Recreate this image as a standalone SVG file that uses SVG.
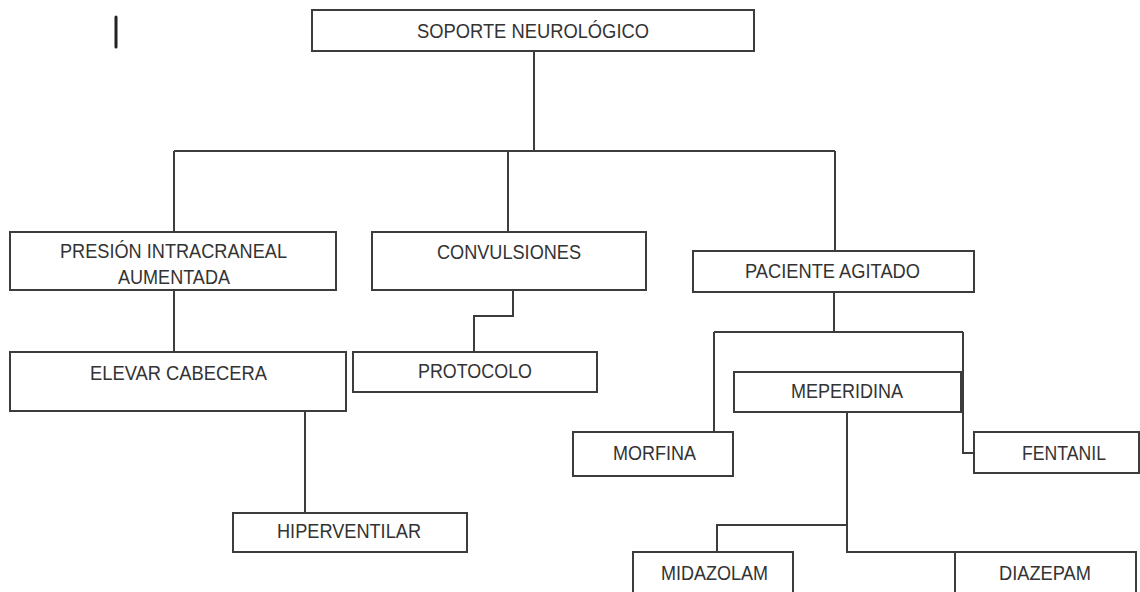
<svg xmlns="http://www.w3.org/2000/svg" width="1140" height="592" viewBox="0 0 1140 592">
<style>
.box{fill:#fff;stroke:#3c3c3c;stroke-width:2}
.lbl{font-family:"Liberation Sans",Arial,sans-serif;font-size:21px;fill:#333;text-anchor:middle}
.con{fill:none;stroke:#3c3c3c;stroke-width:2}
</style>
<rect width="1140" height="592" fill="#fff"/>
<line x1="116" y1="17" x2="116" y2="47" stroke="#222" stroke-width="3" stroke-linecap="round"/>
<g id="connectors" class="con">
<path d="M534 51V151M174 151H835M174 151V232M508 151V232M835 151V251"/>
<path d="M174 290V352"/>
<path d="M513 290V316H474V352"/>
<path d="M305 411V513"/>
<path d="M834 292V332M714 332H963M714 332V432M963 332V453H974"/>
<path d="M847 412V552H955M847 525H717V552"/>
</g>
<g id="soporte"><rect class="box" x="312" y="10" width="442" height="41"/><text class="lbl" x="533" y="38" textLength="232" lengthAdjust="spacingAndGlyphs">SOPORTE NEUROLÓGICO</text></g>
<g id="presion"><rect class="box" x="10" y="232" width="326" height="58"/><text class="lbl" x="173.5" y="258" textLength="227" lengthAdjust="spacingAndGlyphs">PRESIÓN INTRACRANEAL</text><text class="lbl" x="174" y="284" textLength="112" lengthAdjust="spacingAndGlyphs">AUMENTADA</text></g>
<g id="convulsiones"><rect class="box" x="372" y="232" width="274" height="58"/><text class="lbl" x="509" y="259" textLength="144" lengthAdjust="spacingAndGlyphs">CONVULSIONES</text></g>
<g id="paciente"><rect class="box" x="693" y="251" width="281" height="41"/><text class="lbl" x="832.5" y="278" textLength="175" lengthAdjust="spacingAndGlyphs">PACIENTE AGITADO</text></g>
<g id="elevar"><rect class="box" x="10" y="352" width="336" height="59"/><text class="lbl" x="178.5" y="380" textLength="177" lengthAdjust="spacingAndGlyphs">ELEVAR CABECERA</text></g>
<g id="protocolo"><rect class="box" x="353" y="352" width="244" height="40"/><text class="lbl" x="475" y="378" textLength="114" lengthAdjust="spacingAndGlyphs">PROTOCOLO</text></g>
<g id="meperidina"><rect class="box" x="734" y="372" width="227" height="40"/><text class="lbl" x="847" y="398" textLength="112" lengthAdjust="spacingAndGlyphs">MEPERIDINA</text></g>
<g id="morfina"><rect class="box" x="573" y="432" width="160" height="44"/><text class="lbl" x="654.5" y="460" textLength="83" lengthAdjust="spacingAndGlyphs">MORFINA</text></g>
<g id="fentanil"><rect class="box" x="974" y="432" width="165" height="41"/><text class="lbl" x="1064" y="460" textLength="84" lengthAdjust="spacingAndGlyphs">FENTANIL</text></g>
<g id="hiperventilar"><rect class="box" x="233" y="513" width="234" height="39"/><text class="lbl" x="349" y="538" textLength="144" lengthAdjust="spacingAndGlyphs">HIPERVENTILAR</text></g>
<g id="midazolam"><rect class="box" x="633" y="552" width="160" height="50"/><text class="lbl" x="714.5" y="580" textLength="107" lengthAdjust="spacingAndGlyphs">MIDAZOLAM</text></g>
<g id="diazepam"><rect class="box" x="955" y="552" width="181" height="50"/><text class="lbl" x="1045" y="580" textLength="92" lengthAdjust="spacingAndGlyphs">DIAZEPAM</text></g>
</svg>
